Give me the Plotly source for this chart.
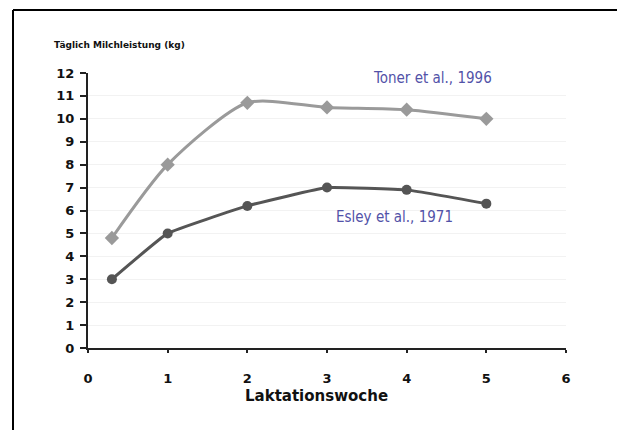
import plotly.graph_objects as go

weeks = [0.3, 1, 2, 3, 4, 5]
toner = [4.8, 8.0, 10.7, 10.5, 10.4, 10.0]
esley = [3.0, 5.0, 6.2, 7.0, 6.9, 6.3]
toner_label = "Toner et al., 1996"
esley_label = "Esley et al., 1971"
x_ticks = [0, 1, 2, 3, 4, 5, 6]
y_ticks = list(range(0, 13))

OFF = 8  # page offset of the figure in the browser window
W, H = 625, 430
L, R, T, B = 88 - OFF, 625 - 566 + OFF, 73 - OFF, 430 - 348 + OFF
pw, ph = W - L - R, H - T - B

def px(x):
    return (x - OFF - L) / pw

def py(y):
    return (H - B - (y - OFF)) / ph

fig = go.Figure()
fig.add_trace(go.Scatter(
    x=weeks, y=toner, mode="lines+markers", name=toner_label,
    line=dict(color="#9a9a9a", width=3, shape="spline", smoothing=0.7),
    marker=dict(symbol="diamond", size=11, color="#9a9a9a"),
    showlegend=False))
fig.add_trace(go.Scatter(
    x=weeks, y=esley, mode="lines+markers", name=esley_label,
    line=dict(color="#555555", width=3, shape="spline", smoothing=0.3),
    marker=dict(symbol="circle", size=10, color="#555555"),
    showlegend=False))

tickfont = dict(family="DejaVu Sans", size=13, color="#111111", weight="bold")
fig.update_xaxes(range=[0, 6], tickvals=x_ticks, ticktext=[str(v) for v in x_ticks],
                 showline=True, linecolor="#222222", linewidth=2,
                 ticks="outside", ticklen=3, tickwidth=2, tickcolor="#222222",
                 ticklabelstandoff=14,
                 showgrid=False, zeroline=False, tickfont=tickfont)
fig.update_yaxes(range=[0, 12], tickvals=y_ticks, ticktext=[str(v) for v in y_ticks],
                 showline=True, linecolor="#222222", linewidth=2,
                 ticks="outside", ticklen=6, tickwidth=2, tickcolor="#222222",
                 ticklabelstandoff=3,
                 showgrid=True, gridcolor="#f2f2f2", gridwidth=1, zeroline=False,
                 tickfont=tickfont)

annfont = dict(family="DejaVu Sans Condensed, DejaVu Sans", size=15, color="#5252a8")
fig.add_annotation(x=4.33, y=11.8, text=toner_label, showarrow=False, font=annfont)
fig.add_annotation(x=3.85, y=5.7, text=esley_label, showarrow=False, font=annfont)
fig.add_annotation(xref="paper", yref="paper", x=px(52), y=py(45), xanchor="left", yanchor="middle",
                   text="Täglich Milchleistung (kg)", showarrow=False,
                   font=dict(family="DejaVu Sans", size=9, color="#111111", weight="bold"))
fig.add_annotation(xref="paper", yref="paper", x=px(316), y=py(396), xanchor="center", yanchor="middle",
                   text="Laktationswoche", showarrow=False,
                   font=dict(family="DejaVu Sans", size=15, color="#111111", weight="bold"))

# outer frame (top and left edges visible)
fig.add_shape(type="line", xref="paper", yref="paper", x0=px(13), x1=px(W + 40), y0=py(10), y1=py(10),
              line=dict(color="black", width=2))
fig.add_shape(type="line", xref="paper", yref="paper", x0=px(13), x1=px(13), y0=py(10), y1=py(H + 40),
              line=dict(color="black", width=2))

fig.update_layout(width=W, height=H, margin=dict(l=L, r=R, t=T, b=B),
                  paper_bgcolor="white", plot_bgcolor="white")
fig.write_html("out.html")
